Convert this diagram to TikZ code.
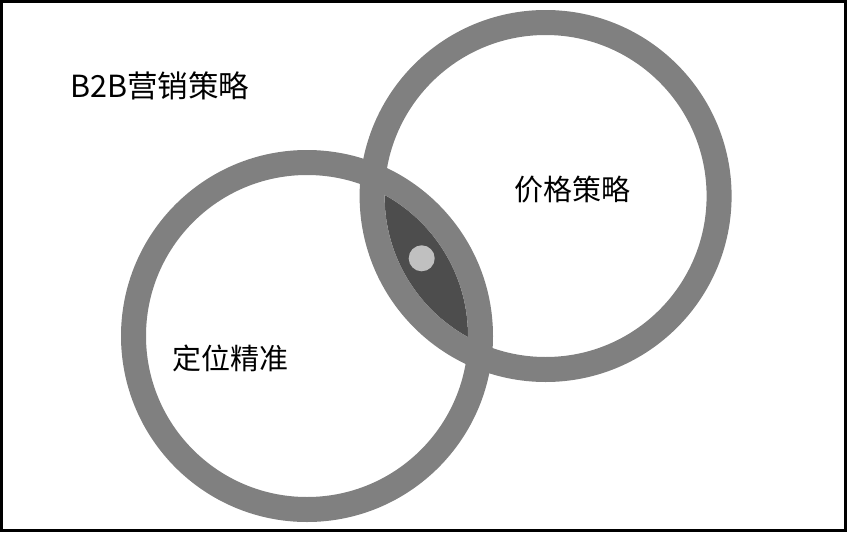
\documentclass[tikz,border=0pt]{standalone}
\usepackage{fontspec}
\newfontfamily\cjk{Noto Sans CJK SC}
\definecolor{ringgray}{HTML}{808080}
\definecolor{lensgray}{HTML}{4D4D4D}
\definecolor{dotgray}{HTML}{C0C0C0}
\begin{document}
\begin{tikzpicture}[x=1pt,y=-1pt,
  ring/.style={draw=ringgray,line width=25pt},
  lens/.style={fill=lensgray},
  lbl/.style={font=\cjk\fontsize{29}{29}\selectfont,inner sep=0pt}]
\useasboundingbox (0,0) rectangle (849,533);
\draw[line width=3pt] (1.5,1.5) rectangle (845.5,530.5);
% centres of the two circles
\coordinate (cPos) at (307,336);
\coordinate (cPrice) at (545.6,196);
% overlap of the inner discs
\begin{scope}
\clip (cPos) circle (161pt);
\fill[lens] (cPrice) circle (161pt);
\end{scope}
\draw[ring] (cPos) circle (173.5pt);
\draw[ring] (cPrice) circle (173.5pt);
\fill[dotgray] (421.7,258.3) circle (13pt);
% labels
\node[lbl,font=\cjk\fontsize{30.5}{30.5}\selectfont,anchor=west] (title) at (70,86) {B2B营销策略};
\node[lbl] (price) at (572,190) {价格策略};
\node[lbl] (pos) at (230,358) {定位精准};
\end{tikzpicture}
\end{document}
